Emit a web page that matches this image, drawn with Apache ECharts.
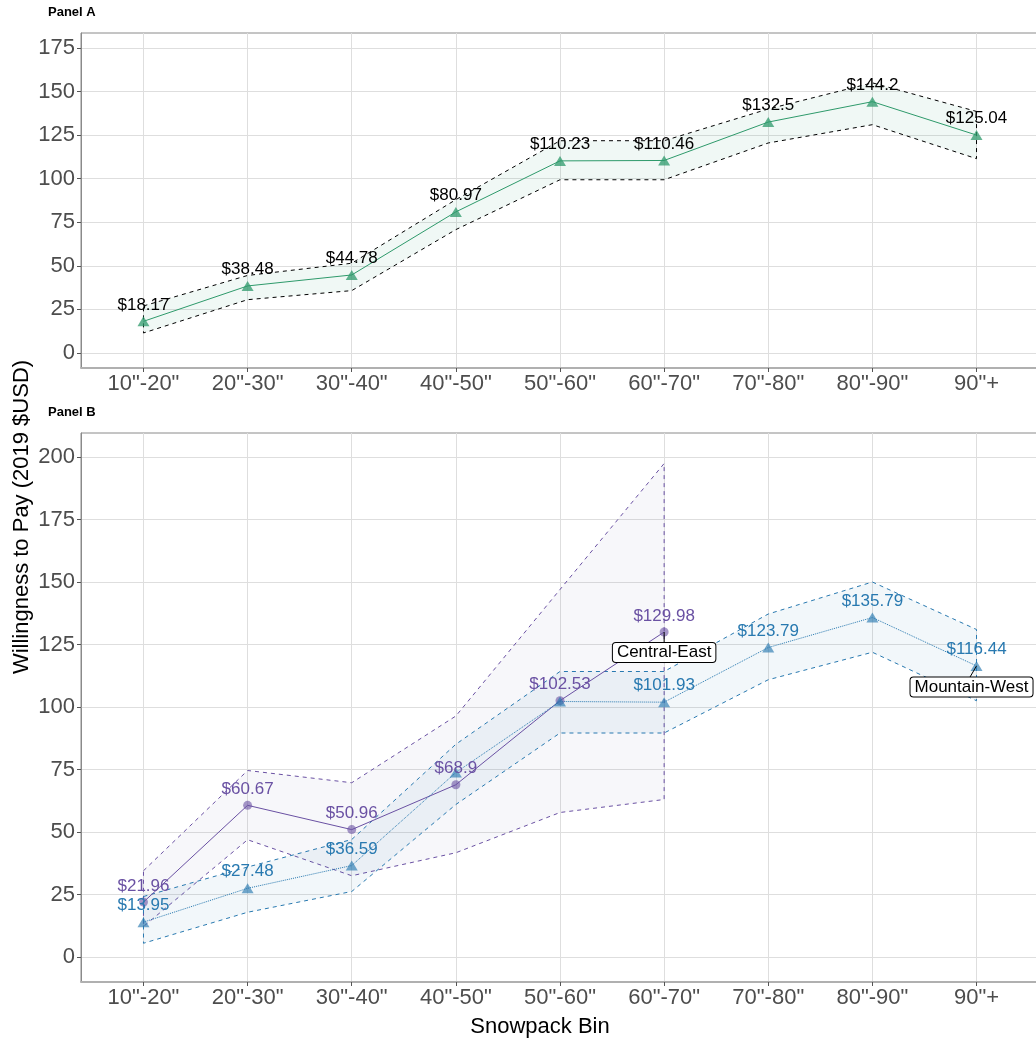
<!DOCTYPE html>
<html>
<head>
<meta charset="utf-8">
<script src="https://cdn.jsdelivr.net/npm/echarts@6/dist/echarts.min.js"></script>
<style>html,body{margin:0;padding:0;background:#fff}#c{width:1036px;height:1041px}</style>
</head>
<body>
<div id="c"></div>
<script>
// ---- data ----
const categories = ['10"-20"','20"-30"','30"-40"','40"-50"','50"-60"','60"-70"','70"-80"','80"-90"','90"+'];
const yTicksA = [0,25,50,75,100,125,150,175];
const yTicksB = [0,25,50,75,100,125,150,175,200];

// Panel A: all regions
const allWTP   = [18.17, 38.48, 44.78, 80.97, 110.23, 110.46, 132.5, 144.2, 125.04];
const allUpper = [27.0, 44.5, 51.5, 88.0, 121.8, 121.8, 140.0, 155.0, 138.6];
const allLower = [11.5, 30.6, 35.8, 70.8, 99.4, 99.4, 120.5, 131.0, 111.5];

// Panel B: Central-East (first six bins)
const ceWTP   = [21.96, 60.67, 50.96, 68.9, 102.53, 129.98];
const ceUpper = [34.5, 74.6, 69.7, 96.4, 147.0, 197.4];
const ceLower = [12.2, 46.9, 32.5, 41.7, 57.8, 63.0];

// Panel B: Mountain-West
const mwWTP   = [13.95, 27.48, 36.59, 73.8, 102.2, 101.93, 123.79, 135.79, 116.44];
const mwUpper = [24.2, 36.0, 47.0, 85.1, 114.2, 114.2, 137.2, 150.0, 131.0];
const mwLower = [5.5, 17.9, 26.2, 61.0, 89.6, 89.6, 110.9, 121.9, 102.5];
const mwUnlabelled = [3, 4];

const FONT = '"Liberation Sans", Arial, sans-serif';
const GREEN = '#2e9a6b', PURPLE = '#6a51a3', BLUE = '#2879b0';
const idx = categories.map((_, i) => i);
const toXY = arr => arr.map((v, i) => [i, v]);

function xAxisFor(g) {
  return {
    type: 'value', gridIndex: g, min: -0.6, max: 8.6,
    splitLine: {show: true, lineStyle: {color: '#dedede', width: 1}},
    axisLine: {show: true, onZero: false, lineStyle: {color: '#b0b0b0', width: 2}},
    axisTick: {show: true, length: 4, customValues: idx, lineStyle: {color: '#555', width: 1}},
    axisLabel: {customValues: idx, formatter: v => categories[Math.round(v)] || '',
      fontSize: 22, color: '#4d4d4d', margin: 5, fontFamily: FONT}
  };
}
function yAxisFor(g, min, max, ticks) {
  return {
    type: 'value', gridIndex: g, min: min, max: max,
    splitLine: {show: true, lineStyle: {color: '#dedede', width: 1}},
    axisLine: {show: true, onZero: false, lineStyle: {color: '#8a8a8a', width: 1}},
    axisTick: {show: true, length: 4, customValues: ticks, lineStyle: {color: '#555', width: 1}},
    axisLabel: {customValues: ticks, fontSize: 22, color: '#4d4d4d', margin: 6, fontFamily: FONT}
  };
}
function ribbon(g, upper, lower, fill, stroke) {
  return {
    type: 'custom', xAxisIndex: g, yAxisIndex: g, data: [[0, upper[0]]], silent: true, z: 1,
    renderItem: function (params, api) {
      const pts = [];
      for (let i = 0; i < upper.length; i++) pts.push(api.coord([i, upper[i]]));
      for (let i = lower.length - 1; i >= 0; i--) pts.push(api.coord([i, lower[i]]));
      return {type: 'polygon', shape: {points: pts},
        style: {fill: fill, stroke: stroke, lineWidth: 1, lineDash: [4, 4]}};
    }
  };
}
function lineSeries(g, vals, color, markColor, symbol, size, lineType, hidden) {
  return {
    type: 'line', xAxisIndex: g, yAxisIndex: g, data: toXY(vals), z: 3,
    symbol: symbol, symbolSize: size, showAllSymbol: true,
    lineStyle: {color: color, width: 1, type: lineType},
    itemStyle: {color: markColor, borderWidth: 0},
    label: {show: true, position: 'top', distance: 3, fontSize: 17, fontFamily: FONT,
      color: color === GREEN ? '#000' : color,
      formatter: p => (hidden && hidden.indexOf(p.dataIndex) >= 0) ? '' : '$' + p.value[1]},
    emphasis: {disabled: true}, animation: false
  };
}
function annotation(g, i, v, text, dx, dy) {
  return {
    type: 'custom', xAxisIndex: g, yAxisIndex: g, data: [[i, v]], z: 5, silent: true,
    renderItem: function (params, api) {
      const p = api.coord([api.value(0), api.value(1)]);
      const bx = p[0] + dx, by = p[1] + dy;
      return {type: 'group', children: [
        {type: 'line', shape: {x1: p[0], y1: p[1], x2: bx + dx * 0.4, y2: by - 9},
          style: {stroke: '#000', lineWidth: 1}},
        {type: 'text', x: bx, y: by, style: {text: text, fontSize: 17, fontFamily: FONT, fill: '#000',
          align: 'center', verticalAlign: 'middle', backgroundColor: '#fff', borderColor: '#000',
          borderWidth: 1, borderRadius: 3, padding: [1, 4, 0, 4], lineHeight: 18}}
      ]};
    }
  };
}

const chart = echarts.init(document.getElementById('c'), null, {renderer: 'canvas'});
chart.setOption({
  animation: false,
  backgroundColor: '#fff',
  grid: [
    {left: 81, top: 33, width: 958, height: 335, show: true, borderColor: '#8a8a8a', borderWidth: 1, outerBoundsMode: 'none', containLabel: false},
    {left: 81, top: 433, width: 958, height: 549, show: true, borderColor: '#8a8a8a', borderWidth: 1, outerBoundsMode: 'none', containLabel: false}
  ],
  xAxis: [xAxisFor(0), xAxisFor(1)],
  yAxis: [yAxisFor(0, -8.6, 183.6, yTicksA), yAxisFor(1, -10, 209.6, yTicksB)],
  graphic: [
    {type: 'text', x: 48, y: 12, style: {text: 'Panel A', fontSize: 13, fontWeight: 'bold', fontFamily: FONT, fill: '#000', verticalAlign: 'middle'}},
    {type: 'text', x: 48, y: 412, style: {text: 'Panel B', fontSize: 13, fontWeight: 'bold', fontFamily: FONT, fill: '#000', verticalAlign: 'middle'}},
    {type: 'text', x: 22, y: 517, rotation: Math.PI / 2, style: {text: 'Willingness to Pay (2019 $USD)', fontSize: 22, fontFamily: FONT, fill: '#000', align: 'center', verticalAlign: 'middle'}},
    {type: 'text', x: 540, y: 1027, style: {text: 'Snowpack Bin', fontSize: 22, fontFamily: FONT, fill: '#000', align: 'center', verticalAlign: 'middle'}}
  ],
  series: [
    ribbon(0, allUpper, allLower, 'rgba(46,154,107,0.07)', '#000'),
    lineSeries(0, allWTP, GREEN, 'rgba(46,154,107,0.75)', 'triangle', [12, 10], 'solid'),
    ribbon(1, ceUpper, ceLower, 'rgba(90,90,150,0.05)', PURPLE),
    ribbon(1, mwUpper, mwLower, 'rgba(40,121,176,0.06)', BLUE),
    lineSeries(1, ceWTP, PURPLE, 'rgba(106,81,163,0.6)', 'circle', 9, 'solid'),
    lineSeries(1, mwWTP, BLUE, 'rgba(40,121,176,0.65)', 'triangle', [12, 10], 'dotted', mwUnlabelled),
    annotation(1, 5, ceWTP[5], 'Central-East', 0, 20.5),
    annotation(1, 8, mwWTP[8], 'Mountain-West', -5, 21)
  ]
});
</script>
</body>
</html>
